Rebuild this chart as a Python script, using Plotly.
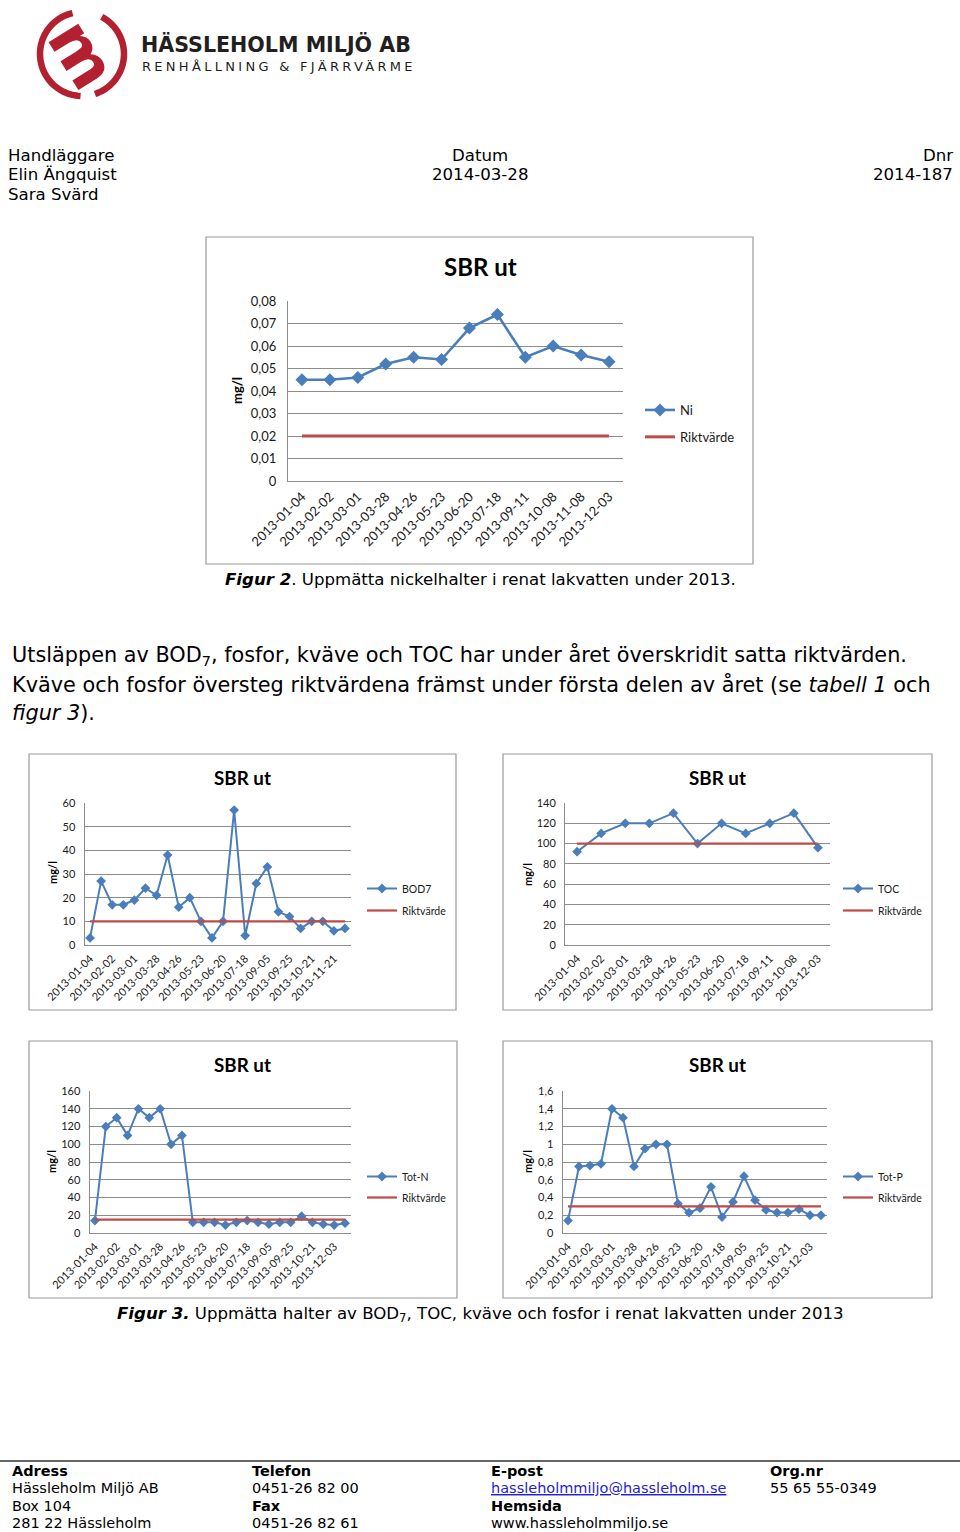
import math
import plotly.graph_objects as go

W, H = 960, 1532


def X(px):
    return px / W


def Y(py):
    return 1 - py / H


# ---------------- data ----------------
ni_labels = ["2013-01-04", "2013-02-02", "2013-03-01", "2013-03-28", "2013-04-26", "2013-05-23",
             "2013-06-20", "2013-07-18", "2013-09-11", "2013-10-08", "2013-11-08", "2013-12-03"]
ni_values = [0.045, 0.045, 0.046, 0.052, 0.055, 0.054, 0.068, 0.074, 0.055, 0.060, 0.056, 0.053]
ni_limit = 0.02

bod_labels = ["2013-01-04", "2013-02-02", "2013-03-01", "2013-03-28", "2013-04-26", "2013-05-23",
              "2013-06-20", "2013-07-18", "2013-09-05", "2013-09-25", "2013-10-21", "2013-11-21"]
bod_values = [3, 27, 17, 17, 19, 24, 21, 38, 16, 20, 10, 3, 10, 57, 4, 26, 33, 14, 12, 7, 10, 10, 6, 7]
bod_limit = 10

toc_labels = ["2013-01-04", "2013-02-02", "2013-03-01", "2013-03-28", "2013-04-26", "2013-05-23",
              "2013-06-20", "2013-07-18", "2013-09-11", "2013-10-08", "2013-12-03"]
toc_values = [92, 110, 120, 120, 130, 100, 120, 110, 120, 130, 96]
toc_limit = 100

totn_labels = ["2013-01-04", "2013-02-02", "2013-03-01", "2013-03-28", "2013-04-26", "2013-05-23",
               "2013-06-20", "2013-07-18", "2013-09-05", "2013-09-25", "2013-10-21", "2013-12-03"]
totn_values = [14, 120, 130, 110, 140, 130, 140, 100, 110, 12, 12, 12, 9, 12, 14, 12, 10, 12, 12, 19,
               12, 10, 9, 11]
totn_limit = 15

totp_labels = ["2013-01-04", "2013-02-02", "2013-03-01", "2013-03-28", "2013-04-26", "2013-05-23",
               "2013-06-20", "2013-07-18", "2013-09-05", "2013-09-25", "2013-10-21", "2013-12-03"]
totp_values = [0.14, 0.75, 0.76, 0.78, 1.4, 1.3, 0.75, 0.95, 1.0, 1.0, 0.33, 0.23, 0.28, 0.52, 0.18,
               0.35, 0.64, 0.37, 0.26, 0.23, 0.23, 0.27, 0.2, 0.2]
totp_limit = 0.3

BLUE = "#4A7EBB"
RED = "#BE4B48"
GRID = "#8C8C8C"
AXTXT = "#1a1a1a"
CHART_FONT = "Lato"
BODY_FONT = "DejaVu Sans"

charts = [
    dict(labels=ni_labels, values=ni_values, limit=ni_limit, ymax=0.08, dtick=0.01,
         plot=(288, 623, 301, 481), box=(206, 753, 237, 564), title=(480, 267), ytitle=(237, 391),
         leg=(640, 410, 27), name="Ni", big=True),
    dict(labels=bod_labels, values=bod_values, limit=bod_limit, ymax=60, dtick=10,
         plot=(84.5, 350.5, 803, 945), box=(29, 456, 754, 1010), title=(242, 777), ytitle=(52, 873),
         leg=(362, 889, 22), name="BOD7", big=False),
    dict(labels=toc_labels, values=toc_values, limit=toc_limit, ymax=140, dtick=20,
         plot=(565, 830, 803, 945), box=(503, 932, 754, 1010), title=(717, 777), ytitle=(527, 875),
         leg=(838, 889, 22), name="TOC", big=False),
    dict(labels=totn_labels, values=totn_values, limit=totn_limit, ymax=160, dtick=20,
         plot=(89.5, 350.5, 1091, 1233), box=(29, 457, 1041, 1298), title=(242, 1064), ytitle=(51, 1162),
         leg=(362, 1177, 21), name="Tot-N", big=False),
    dict(labels=totp_labels, values=totp_values, limit=totp_limit, ymax=1.6, dtick=0.2,
         plot=(562.5, 826.5, 1091, 1233), box=(503, 932, 1041, 1298), title=(717, 1064), ytitle=(527, 1162),
         leg=(838, 1177, 21), name="Tot-P", big=False),
]

fig = go.Figure()
annotations = []
shapes = []
layout_axes = {}

for i, c in enumerate(charts):
    k = "" if i == 0 else str(i + 1)
    xa, ya = "x" + k, "y" + k
    lg = "legend" + k
    n = len(c["values"])
    step = 1 if n <= 12 else 2
    xs = list(range(n))
    big = c["big"]
    lw = 2.6 if big else 2.0
    ms = 10 if big else 7.5
    fig.add_trace(go.Scatter(
        x=xs, y=c["values"], mode="lines+markers", name=c["name"],
        line=dict(color=BLUE, width=lw), marker=dict(symbol="diamond", size=ms, color=BLUE),
        xaxis=xa, yaxis=ya, legend=lg, legendgroup=c["name"] + k, showlegend=True,
    ))
    fig.add_trace(go.Scatter(
        x=[xs[0], xs[-1]], y=[c["limit"], c["limit"]], mode="lines", name="Riktvärde",
        line=dict(color=RED, width=(3 if big else 2.2)),
        xaxis=xa, yaxis=ya, legend=lg, legendgroup="rikt" + k, showlegend=True,
    ))
    l, r, t, b = c["plot"]
    tick_fs = 13 if big else 11
    layout_axes["xaxis" + k] = dict(
        domain=[X(l), X(r)], anchor=ya, range=[-0.5, n - 0.5], automargin=False,
        tickmode="array", tickvals=xs[::step], ticktext=c["labels"], tickangle=-45,
        showgrid=False, zeroline=False, showline=True, linecolor=GRID, linewidth=1,
        ticks="", ticklabelstandoff=2,
        tickfont=dict(family=CHART_FONT, size=tick_fs, color=AXTXT), fixedrange=True,
    )
    layout_axes["yaxis" + k] = dict(
        domain=[Y(b), Y(t)], anchor=xa, range=[0, c["ymax"] * 1.0001], tick0=0, dtick=c["dtick"],
        automargin=False, showgrid=True, gridcolor=GRID, gridwidth=1, zeroline=False, showline=True,
        linecolor=GRID, linewidth=1, ticks="", ticklabelstandoff=(8 if big else 6),
        tickfont=dict(family=CHART_FONT, size=tick_fs, color=AXTXT), fixedrange=True,
    )
    lx, ly, gap = c["leg"]
    leg_fs = 13 if big else 10.5
    layout_axes[lg] = dict(
        x=X(lx), y=Y(ly - 15), xanchor="left", yanchor="top",
        font=dict(family=CHART_FONT, size=leg_fs, color=AXTXT), bgcolor="rgba(0,0,0,0)",
        borderwidth=0, tracegroupgap=(gap - 20 if big else gap - 19), itemwidth=30,
    )
    bl, br, bt, bb = c["box"]
    shapes.append(dict(type="rect", xref="paper", yref="paper", x0=X(bl), x1=X(br), y0=Y(bb), y1=Y(bt),
                       line=dict(color="#9a9a9a", width=1.2), fillcolor="rgba(0,0,0,0)", layer="below"))
    tx, ty = c["title"]
    annotations.append(dict(text="<b>SBR ut</b>", x=X(tx), y=Y(ty), xref="paper", yref="paper",
                            showarrow=False, xanchor="center", yanchor="middle",
                            font=dict(family=CHART_FONT, size=(24 if big else 18.8), color="#000000")))
    yx, yy = c["ytitle"]
    annotations.append(dict(text="<b>mg/l</b>", x=X(yx), y=Y(yy), xref="paper", yref="paper",
                            showarrow=False, xanchor="center", yanchor="middle", textangle=-90,
                            font=dict(family=CHART_FONT, size=(13 if big else 11), color="#000000")))


def txt(s, px, py, size=16.6, anchor="left", family=BODY_FONT, color="#000000"):
    shift = -2 if anchor == "left" else (2 if anchor == "right" else 0)
    annotations.append(dict(text=s, x=X(px + shift), y=Y(py), xref="paper", yref="paper", showarrow=False,
                            xanchor=anchor, yanchor="middle", align=anchor,
                            font=dict(family=family, size=size, color=color)))


# ---------------- logo ----------------
cx, cy, rad = 82, 54, 42
LOGO_RED = "#B3202F"


def arc(a0, a1, steps=40):
    pts = []
    for s in range(steps + 1):
        a = math.radians(a0 + (a1 - a0) * s / steps)
        pts.append((X(cx + rad * math.cos(a)), Y(cy - rad * math.sin(a))))
    return "M " + " L ".join(f"{p[0]:.5f},{p[1]:.5f}" for p in pts)


for a0, a1 in [(103, 268), (-72, 62)]:
    shapes.append(dict(type="path", xref="paper", yref="paper", path=arc(a0, a1),
                       line=dict(color=LOGO_RED, width=6.5)))
annotations.append(dict(text="<b>m</b>", x=X(82), y=Y(54), xref="paper", yref="paper", showarrow=False,
                        xanchor="center", yanchor="middle", textangle=58,
                        font=dict(family="DejaVu Sans", size=64, color=LOGO_RED)))
txt("<b>HÄSSLEHOLM MILJÖ AB</b>", 141, 44, size=20.6, family="DejaVu Sans", color="#231F20")
txt('<span style="letter-spacing:3.3px">RENHÅLLNING &amp; FJÄRRVÄRME</span>', 142, 67, size=13,
    family="DejaVu Sans", color="#231F20")

# ---------------- header ----------------
txt("Handläggare", 8, 155)
txt("Elin Ängquist", 8, 175)
txt("Sara Svärd", 8, 195)
txt("Datum", 480, 155, anchor="center")
txt("2014-03-28", 480, 175, anchor="center")
txt("Dnr", 953, 155, anchor="right")
txt("2014-187", 953, 175, anchor="right")

# ---------------- captions and body ----------------
txt("<b><i>Figur 2</i></b>. Uppmätta nickelhalter i renat lakvatten under 2013.", 480, 579, size=16.6,
    anchor="center")
txt("Utsläppen av BOD<sub>7</sub>, fosfor, kväve och TOC har under året överskridit satta riktvärden.",
    12, 655, size=20.8)
txt("Kväve och fosfor översteg riktvärdena främst under första delen av året (se <i>tabell 1</i> och",
    12, 684, size=20.8)
txt("<i>figur 3</i>).", 12, 713, size=20.8)
txt("<b><i>Figur 3.</i></b> Uppmätta halter av BOD<sub>7</sub>, TOC, kväve och fosfor i renat lakvatten under 2013",
    480, 1314, size=16.6, anchor="center")

# ---------------- footer ----------------
shapes.append(dict(type="line", xref="paper", yref="paper", x0=0, x1=1, y0=Y(1461), y1=Y(1461),
                   line=dict(color="#333333", width=1.5)))
fy = [1471, 1488, 1506, 1523]
fs = 14.5
txt("<b>Adress</b>", 12, fy[0], size=fs)
txt("Hässleholm Miljö AB", 12, fy[1], size=fs)
txt("Box 104", 12, fy[2], size=fs)
txt("281 22 Hässleholm", 12, fy[3], size=fs)
txt("<b>Telefon</b>", 252, fy[0], size=fs)
txt("0451-26 82 00", 252, fy[1], size=fs)
txt("<b>Fax</b>", 252, fy[2], size=fs)
txt("0451-26 82 61", 252, fy[3], size=fs)
txt("<b>E-post</b>", 491, fy[0], size=fs)
txt("<u>hassleholmmiljo@hassleholm.se</u>", 491, fy[1], size=fs, color="#1F1FD0")
txt("<b>Hemsida</b>", 491, fy[2], size=fs)
txt("www.hassleholmmiljo.se", 491, fy[3], size=fs)
txt("<b>Org.nr</b>", 770, fy[0], size=fs)
txt("55 65 55-0349", 770, fy[1], size=fs)

fig.update_layout(
    width=W, height=H, autosize=False, margin=dict(l=0, r=0, t=0, b=0, autoexpand=False),
    paper_bgcolor="white", plot_bgcolor="rgba(0,0,0,0)", separators=", ",
    annotations=annotations, shapes=shapes, showlegend=True,
    **layout_axes,
)

fig.write_html("out.html", config={"displayModeBar": False},
               post_script="document.body.style.margin='0';document.body.style.overflow='hidden';")
